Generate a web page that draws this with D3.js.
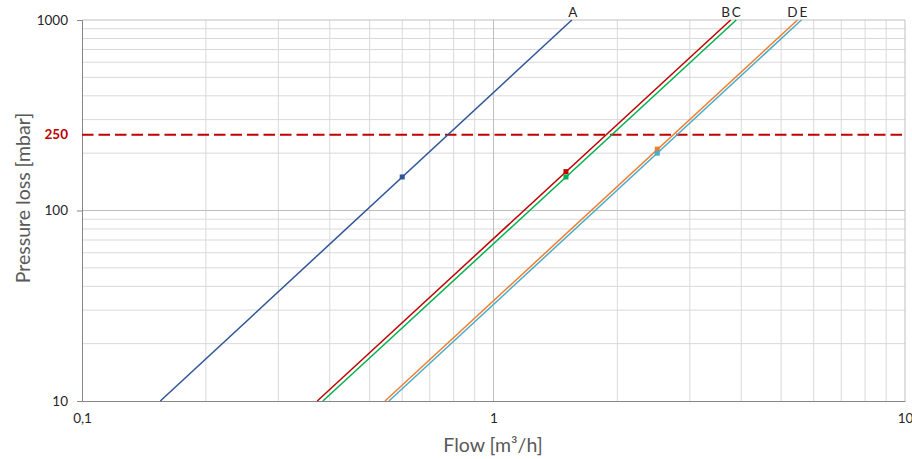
<!DOCTYPE html>
<html>
<head>
<meta charset="utf-8">
<script src="https://cdn.jsdelivr.net/npm/d3@7/dist/d3.min.js"></script>
<style>
  body { margin: 0; background: #fff; }
  svg { display: block; font-family: Lato, "Open Sans", sans-serif; }
</style>
</head>
<body>
<svg id="chart" width="912" height="459"></svg>
<script>
// ---- data ----
const seriesNames = ["A", "B", "C", "D", "E"];
const seriesColors = ["#2F5597", "#C00000", "#00B050", "#ED7D31", "#4BACC6"];
// each series: flow [m3/h] at the ends of the drawn curve, and pressure [mbar]
const flowA = [0.155, 1.55];
const flowB = [0.373, 3.77];
const flowC = [0.385, 3.89];
const flowD = [0.545, 5.48];
const flowE = [0.557, 5.60];
const pressureEnds = [10, 1000];
// marked operating points
const markerFlow = [0.6, 1.5, 1.5, 2.5, 2.5];
const markerPressure = [150, 160, 150, 210, 200];
// reference line
const limitPressure = 250;
// ticks
const xTickValues = [0.1, 1, 10];
const xTickLabels = ["0,1", "1", "10"];
const yTickValues = [10, 100, 1000];
const yTickLabels = ["10", "100", "1000"];

// ---- layout ----
const svg = d3.select("#chart");
const m = { left: 82, right: 905, top: 20, bottom: 401 };
const x = d3.scaleLog().domain([0.1, 10]).range([m.left, m.right]);
const y = d3.scaleLog().domain([10, 1000]).range([m.bottom, m.top]);

const seriesFlows = [flowA, flowB, flowC, flowD, flowE];

// gridlines
const minorX = [], minorY = [];
[0.1, 1].forEach(d => { for (let k = 2; k <= 9; k++) minorX.push(d * k); });
[10, 100].forEach(d => { for (let k = 2; k <= 9; k++) minorY.push(d * k); });

const grid = svg.append("g");
grid.selectAll(".gx").data(minorX).join("line")
  .attr("x1", d => x(d)).attr("x2", d => x(d))
  .attr("y1", m.top).attr("y2", m.bottom)
  .attr("stroke", "#d9d9d9").attr("stroke-width", 1);
grid.selectAll(".gy").data(minorY).join("line")
  .attr("x1", m.left).attr("x2", m.right)
  .attr("y1", d => y(d)).attr("y2", d => y(d))
  .attr("stroke", "#d9d9d9").attr("stroke-width", 1);
// major grid
grid.selectAll(".gxm").data([1, 10]).join("line")
  .attr("x1", d => x(d)).attr("x2", d => x(d))
  .attr("y1", m.top).attr("y2", m.bottom)
  .attr("stroke", "#bfbfbf").attr("stroke-width", 1);
grid.selectAll(".gym").data([100, 1000]).join("line")
  .attr("x1", m.left).attr("x2", m.right)
  .attr("y1", d => y(d)).attr("y2", d => y(d))
  .attr("stroke", "#bfbfbf").attr("stroke-width", 1);

// axes
const yAxis = d3.axisLeft(y).tickValues(yTickValues)
  .tickFormat((d, i) => yTickLabels[i]).tickSize(5).tickPadding(9);
const gy = svg.append("g").attr("transform", `translate(${m.left},0)`).call(yAxis);
gy.select(".domain").attr("stroke", "#868686");
gy.selectAll(".tick line").attr("stroke", "#868686");
gy.selectAll(".tick text").attr("font-size", 13.5).attr("fill", "#262626")
  .attr("font-family", "Lato, sans-serif");

const xAxis = d3.axisBottom(x).tickValues(xTickValues)
  .tickFormat((d, i) => xTickLabels[i]).tickSize(0).tickPadding(12);
const gx = svg.append("g").attr("transform", `translate(0,${m.bottom})`).call(xAxis);
gx.select(".domain").attr("stroke", "#868686");
gx.selectAll(".tick text").attr("font-size", 13.5).attr("fill", "#262626")
  .attr("font-family", "Lato, sans-serif");

// 250 reference line + label
svg.append("line")
  .attr("x1", m.left).attr("x2", m.right)
  .attr("y1", y(limitPressure)).attr("y2", y(limitPressure))
  .attr("stroke", "#C00000").attr("stroke-width", 2)
  .attr("stroke-dasharray", "11.5,5");
svg.append("text")
  .attr("x", m.left - 14).attr("y", y(limitPressure))
  .attr("dy", "0.35em").attr("text-anchor", "end")
  .attr("font-size", 13.5).attr("font-weight", "bold").attr("fill", "#C00000")
  .text(String(limitPressure));

// series lines
const line = d3.line().x(d => x(d[0])).y(d => y(d[1]));
seriesFlows.forEach((f, i) => {
  const pts = f.map((q, j) => [q, pressureEnds[j]]);
  svg.append("path").datum(pts)
    .attr("d", line).attr("fill", "none")
    .attr("stroke", seriesColors[i]).attr("stroke-width", 1.5);
});

// markers
svg.selectAll(".mk").data(markerFlow.map((q, i) => [q, markerPressure[i], i])).join("rect")
  .attr("x", d => x(d[0]) - 2.5).attr("y", d => y(d[1]) - 2.5)
  .attr("width", 5).attr("height", 5)
  .attr("fill", d => seriesColors[d[2]]);

// series labels at the top ends
const labelDx = [1, -5, 0, -5, 2];
svg.selectAll(".lbl").data(seriesNames).join("text")
  .attr("x", (d, i) => x(seriesFlows[i][1]) + labelDx[i])
  .attr("y", m.top - 3)
  .attr("text-anchor", "middle")
  .attr("font-size", 13.5).attr("fill", "#262626")
  .text(d => d);

// axis titles
svg.append("text")
  .attr("x", 493).attr("y", 452)
  .attr("text-anchor", "middle").attr("font-size", 19.5).attr("fill", "#595959")
  .text("Flow [m³/h]");
svg.append("text")
  .attr("transform", "translate(30,198) rotate(-90)")
  .attr("text-anchor", "middle").attr("font-size", 19.5).attr("fill", "#595959")
  .text("Pressure loss [mbar]");
</script>
</body>
</html>
